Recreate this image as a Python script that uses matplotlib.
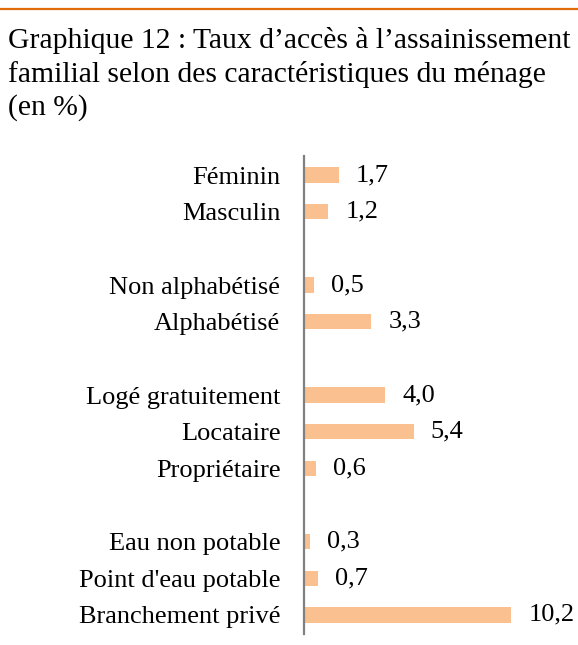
import matplotlib

matplotlib.use("Agg")
import matplotlib.pyplot as plt
import numpy as np

# données (en %), de haut en bas ; None = ligne vide entre groupes
categories = ["Féminin", "Masculin", None,
              "Non alphabétisé", "Alphabétisé", None,
              "Logé gratuitement", "Locataire", "Propriétaire", None,
              "Eau non potable", "Point d'eau potable", "Branchement privé"]
values = [1.7, 1.2, None,
          0.5, 3.3, None,
          4.0, 5.4, 0.6, None,
          0.3, 0.7, 10.2]

TITLE_LINES = ["Graphique 12 : Taux d\u2019accès à l\u2019assainissement",
               "familial selon des caractéristiques du ménage",
               "(en %)"]

BAR = "#FAC090"
RULE = "#E36C0A"
AXIS = "#808080"
FONT = ["Liberation Serif", "DejaVu Serif"]

W, H = 578, 645
fig = plt.figure(figsize=(W / 100, H / 100), dpi=100, facecolor="white")

# filet orange en haut
fig.add_artist(plt.Line2D([0, 1], [1 - 9 / H, 1 - 9 / H], color=RULE, lw=1.6,
                          transform=fig.transFigure))

for k, line in enumerate(TITLE_LINES):
    fig.text(8 / W, 1 - (48 + 33.5 * k) / H, line, ha="left", va="baseline",
             fontsize=21.3, family=FONT)

ax = fig.add_axes([304 / W, 1 - 634 / H, 1 - 304 / W, (634 - 156) / H])

pos = np.arange(len(categories))
idx = [i for i, v in enumerate(values) if v is not None]
vals = [values[i] for i in idx]
ax.barh(pos[idx], vals, height=0.42, color=BAR)

for i, v in zip(idx, vals):
    ax.text(v + 0.85, i, f"{v:.1f}".replace(".", ","), va="center", ha="left",
            fontsize=19, family=FONT)

ax.set_yticks(pos[idx])
ax.set_yticklabels([categories[i] for i in idx], fontsize=19, family=FONT)
ax.tick_params(axis="y", length=0, pad=17)
ax.set_xticks([])
ax.set_ylim(len(categories) - 0.48, -0.52)
ax.set_xlim(0, (W - 304) / 20.3)

for s in ["top", "right", "bottom"]:
    ax.spines[s].set_visible(False)
ax.spines["left"].set_color(AXIS)
ax.spines["left"].set_linewidth(1.6)

fig.savefig("out.png", dpi=100, facecolor="white")
